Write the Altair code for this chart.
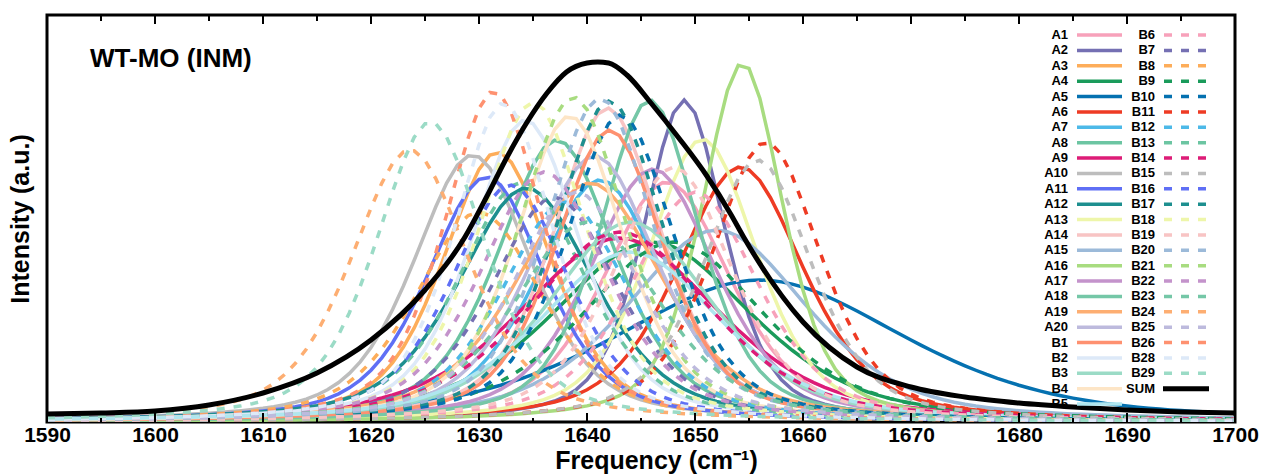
import altair as alt
import numpy as np
import pandas as pd

FONT = "Liberation Sans"

# ---------------- data ----------------
names = ([f"A{i}" for i in range(1, 21)] + [f"B{i}" for i in range(1, 27)] + ["B28", "B29"])

palette = ["#f7a1ba", "#7570b3", "#fdad5a", "#1a9b5b", "#0571b0", "#ee3b24", "#4db9e8",
           "#6cc5a2", "#dd1c77", "#bdbdbd", "#5f6ff5", "#1d8f8f", "#eef6aa", "#f8c4c4",
           "#9cbad9", "#a8dc80", "#c493cb", "#75c7a7", "#fdae72", "#bdbadd", "#fe9170",
           "#dde9f8", "#9bdbc6", "#fde5c6", "#afe6ef"]
colors = palette + palette[:21] + [palette[21], palette[22]]
dashes = ["solid"] * 25 + ["dash"] * 23

# peak centre (cm-1), peak height (a.u.), full width at half maximum (cm-1)
centers = [1647.4, 1649.0, 1631.7, 1646.0, 1656.0, 1654.2, 1641.2, 1637.2, 1643.0, 1629.4,
           1630.7, 1634.4, 1650.7, 1641.9, 1652.0, 1654.4, 1646.1, 1645.8, 1640.3, 1640.7,
           1642.1, 1634.3, 1644.0, 1638.4, 1644.0,
           1650.0, 1637.0, 1630.0, 1648.0, 1643.1, 1656.6, 1638.0, 1634.0, 1643.0, 1655.8,
           1632.9, 1642.1, 1635.0, 1648.0, 1641.2, 1638.7, 1636.0, 1640.0, 1623.6, 1639.0,
           1631.4, 1632.3, 1625.5]
heights = [240, 322, 270, 180, 142, 255, 242, 282, 184, 267,
           245, 234, 283, 314, 192, 359, 253, 322, 239, 266,
           292, 302, 200, 306, 170,
           230, 225, 210, 180, 307, 280, 220, 240, 190, 262,
           237, 321, 320, 255, 324, 325, 250, 200, 272, 230,
           331, 319, 300]
fwhms = [14, 9, 12, 22, 32, 14, 14, 13, 22, 13,
         13, 15, 12, 12, 20, 9, 14, 11, 16, 14,
         12, 12, 18, 12, 20,
         14, 14, 14, 20, 12, 12, 14, 14, 20, 12,
         13, 12, 12, 13, 12, 12, 14, 16, 13, 14,
         11, 11, 12]

sum_freq = [1590, 1595, 1600, 1605, 1610, 1615, 1620, 1625, 1628.7, 1630.7, 1632.6, 1634.4,
            1636.3, 1638.1, 1640.0, 1641.0, 1642.0, 1643.7, 1646.0, 1648.5, 1651.1, 1653.3,
            1654.5, 1660, 1665, 1670, 1675, 1680, 1685, 1690, 1695, 1700]
sum_int = [8, 9, 11, 17, 29, 49, 82, 132, 185, 225, 265, 299,
           329, 350, 359, 360, 359, 347, 318, 284, 246, 208,
           185, 100, 55, 35, 25, 19, 15, 12, 10, 9]

x_ticks = list(range(1590, 1701, 10))
x_minor = list(range(1595, 1700, 10))

# ---------------- build tables ----------------
freq = np.arange(1590, 1701, 1.0)
rows = []
for n, c, h, w, d in zip(names, centers, heights, fwhms, dashes):
    dx = (freq - c) / (w / 2.0)
    shape = 0.5 / (1 + dx ** 2) + 0.5 * np.exp(-np.log(2) * dx ** 2)
    for f, v in zip(freq, h * shape):
        rows.append({"f": f, "v": v, "name": n, "dash": d})
curves = pd.DataFrame(rows)
sum_df = pd.DataFrame({"f": sum_freq, "v": sum_int})

XD = [1590, 1700]
YD = [0, 407]
xs = alt.Scale(domain=XD, nice=False, zero=False)
ys = alt.Scale(domain=YD, nice=False, zero=False)

xaxis = alt.Axis(values=x_ticks, format="d", labelFont=FONT, labelFontSize=21,
                 labelFontWeight="bold", labelColor="black", labelPadding=2, labelFlush=False,
                 ticks=False, domain=False, grid=False,
                 title="Frequency (cm⁻¹)", titleFont=FONT, titleFontSize=25,
                 titleFontWeight="bold", titleColor="black", titleBaseline="alphabetic",
                 titleY=46, titleX=609)
yaxis = alt.Axis(labels=False, ticks=False, domain=False, grid=False,
                 title="Intensity (a.u.)", titleFont=FONT, titleFontSize=25,
                 titleFontWeight="bold", titleColor="black", titleBaseline="alphabetic",
                 titleX=-19)

color_scale = alt.Scale(domain=names, range=colors)
dash_scale = alt.Scale(domain=["solid", "dash"], range=[[1, 0], [8, 9]])

solid = alt.Chart(curves[curves.dash == "solid"]).mark_line(strokeWidth=3.5, clip=True).encode(
    x=alt.X("f:Q", scale=xs, axis=xaxis),
    y=alt.Y("v:Q", scale=ys, axis=yaxis),
    color=alt.Color("name:N", scale=color_scale, legend=None),
)
dashed = alt.Chart(curves[curves.dash == "dash"]).mark_line(strokeWidth=3.5, clip=True).encode(
    x=alt.X("f:Q", scale=xs),
    y=alt.Y("v:Q", scale=ys),
    color=alt.Color("name:N", scale=color_scale, legend=None),
    strokeDash=alt.StrokeDash("dash:N", scale=dash_scale, legend=None),
)
total = alt.Chart(sum_df).mark_line(strokeWidth=5, color="black", interpolate="monotone").encode(
    x=alt.X("f:Q", scale=xs), y=alt.Y("v:Q", scale=ys))

tick_major = pd.DataFrame({"f": x_ticks})
tick_minor = pd.DataFrame({"f": x_minor})
t1 = alt.Chart(tick_major).mark_rule(color="black", strokeWidth=2).encode(
    x=alt.X("f:Q", scale=xs), y=alt.value(407), y2=alt.value(398))
t2 = alt.Chart(tick_major).mark_rule(color="black", strokeWidth=2).encode(
    x=alt.X("f:Q", scale=xs), y=alt.value(0), y2=alt.value(9))
t3 = alt.Chart(tick_minor).mark_rule(color="black", strokeWidth=2).encode(
    x=alt.X("f:Q", scale=xs), y=alt.value(407), y2=alt.value(403))
t4 = alt.Chart(tick_minor).mark_rule(color="black", strokeWidth=2).encode(
    x=alt.X("f:Q", scale=xs), y=alt.value(0), y2=alt.value(6))

label = alt.Chart(pd.DataFrame({"t": ["WT-MO (INM)"]})).mark_text(
    font=FONT, fontSize=26, fontWeight="bold", align="left", baseline="alphabetic",
    color="black").encode(x=alt.value(43), y=alt.value(52), text="t:N")

main = alt.layer(solid, dashed, total, t1, t2, t3, t4, label)

# ---------------- manual legend (two columns) ----------------
leg_names = names + ["SUM"]
leg_colors = colors + ["black"]
leg_dash = dashes + ["sum"]
leg_col = [0 if i < 25 else 1 for i in range(len(leg_names))]
leg_row = [i if i < 25 else i - 25 for i in range(len(leg_names))]
leg = pd.DataFrame({"name": leg_names, "col": leg_col, "row": leg_row, "dash": leg_dash})
lx = alt.Scale(domain=[0, 1], range=[1021, 1108])
ly = alt.Scale(domain=[0, 24], range=[20, 389])
leg_color_scale = alt.Scale(domain=leg_names, range=leg_colors)
leg_text = alt.Chart(leg).mark_text(font=FONT, fontSize=13, fontWeight="bold", align="right",
                                    baseline="middle", color="black").encode(
    x=alt.X("col:Q", scale=lx, axis=None), y=alt.Y("row:Q", scale=ly, axis=None), text="name:N")
leg_lines = alt.Chart(leg[leg.dash != "sum"]).mark_rule(strokeWidth=3.5, xOffset=9, x2Offset=54).encode(
    x=alt.X("col:Q", scale=lx, axis=None), x2="col:Q",
    y=alt.Y("row:Q", scale=ly, axis=None),
    color=alt.Color("name:N", scale=leg_color_scale, legend=None),
    strokeDash=alt.StrokeDash("dash:N", scale=dash_scale, legend=None))
leg_sum = alt.Chart(leg[leg.dash == "sum"]).mark_rule(strokeWidth=5, color="black", xOffset=8, x2Offset=54).encode(
    x=alt.X("col:Q", scale=lx, axis=None), x2="col:Q",
    y=alt.Y("row:Q", scale=ly, axis=None))
legend = alt.layer(leg_lines, leg_sum, leg_text)

chart = alt.layer(main, legend).resolve_scale(
    x="independent", y="independent", color="independent", strokeDash="independent"
).properties(
    width=1188, height=407, autosize=alt.AutoSizeParams(type="none"),
    padding={"left": 47, "top": 15, "right": 32, "bottom": 52},
).configure_view(stroke="black", strokeWidth=3)

chart.save("out.html", embed_options={"renderer": "svg", "actions": False})
